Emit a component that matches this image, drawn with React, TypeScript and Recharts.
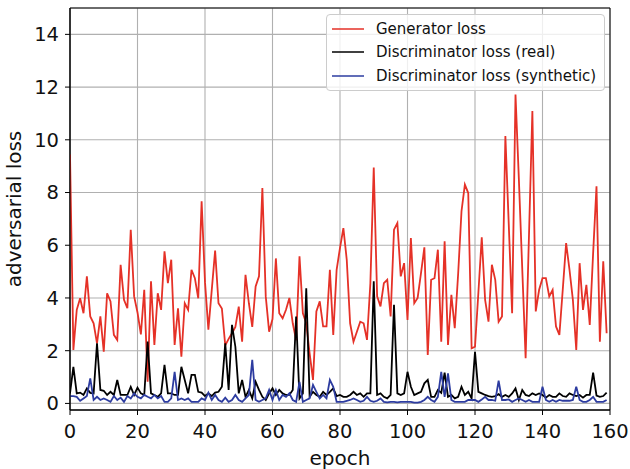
import React from 'react';
import {
  LineChart,
  Line,
  XAxis,
  YAxis,
  CartesianGrid,
  Legend,
  ReferenceArea,
} from 'recharts';

const FONT = '"DejaVu Sans", Verdana, sans-serif';

// Training epochs 0..159
const epochs = Array.from({ length: 160 }, (_, i) => i);

const generatorLoss = [
  9.44, 2.03, 3.55, 3.99, 3.42, 4.82, 3.3, 3.04, 2.28, 3.3,
  1.96, 4.18, 3.87, 2.6, 2.41, 5.26, 3.93, 3.61, 6.59, 4.06,
  3.45, 2.62, 4.31, 0.82, 4.63, 2.22, 4.18, 3.55, 5.77, 4.56,
  5.45, 2.22, 3.61, 1.77, 3.8, 3.55, 5.07, 4.75, 3.99, 7.67,
  4.6, 2.8, 4.3, 5.8, 3.8, 3.6, 2.2, 2.45, 2.66, 2.9,
  3.67, 2.34, 4.88, 3.8, 2.9, 4.44, 4.82, 8.17, 4.06, 2.72,
  3.2, 5.5, 3.42, 3.23, 3.55, 4.0, 3.04, 2.4, 5.58, 3.42,
  3.04, 1.9, 0.89, 3.49, 3.87, 2.92, 2.92, 5.07, 2.6, 5.07,
  5.9, 6.65, 5.45, 3.04, 2.34, 2.72, 3.1, 3.04, 2.41, 4.56,
  8.95, 4.06, 3.68, 4.56, 4.69, 3.3, 6.59, 6.84, 4.82, 5.32,
  3.17, 6.27, 3.8, 4.0, 4.94, 5.92, 1.84, 4.69, 4.75, 5.83,
  2.34, 6.15, 2.22, 4.12, 2.85, 4.9, 7.29, 8.3, 7.98, 2.09,
  2.15, 4.2, 6.3, 3.93, 3.1, 5.26, 4.69, 3.1, 3.3, 10.14,
  6.8, 3.42, 11.72, 8.5, 5.1, 1.71, 6.4, 11.09, 3.49, 4.31,
  4.75, 4.75, 4.06, 4.31, 2.92, 2.6, 4.31, 6.08, 5.07, 3.93,
  2.03, 5.32, 3.55, 4.5, 2.98, 5.7, 8.24, 2.34, 5.39, 2.66,
];

const discriminatorRealLoss = [
  0.38, 1.39, 0.38, 0.41, 0.32, 0.57, 0.4, 0.38, 2.28, 0.51,
  0.48, 0.32, 0.44, 0.32, 0.89, 0.32, 0.32, 0.32, 0.63, 0.32,
  0.6, 0.38, 0.32, 2.35, 0.38, 0.32, 0.25, 0.38, 1.46, 0.38,
  0.38, 0.32, 0.32, 1.39, 0.89, 0.38, 1.08, 1.08, 0.44, 0.41,
  0.28, 0.38, 0.28, 0.41, 0.44, 0.63, 2.28, 0.51, 2.98, 2.15,
  0.38, 0.89, 0.25, 0.51, 0.19, 0.82, 0.51, 0.25, 0.13, 0.38,
  0.57, 0.32, 0.51, 0.38, 0.32, 0.32, 0.51, 3.3, 0.19, 0.38,
  4.37, 0.25, 0.44, 0.32, 0.25, 0.44, 0.32, 0.44, 0.57, 0.28,
  0.32, 0.25, 0.25, 0.32, 0.44, 0.32, 0.38, 0.25, 0.38, 0.38,
  4.63, 0.32, 0.38, 0.25, 0.19, 0.32, 3.74, 0.38, 0.32, 0.38,
  1.2, 0.63, 0.32, 0.38, 0.44, 0.76, 0.89, 0.25, 0.25, 0.51,
  0.4, 1.17, 0.25, 0.32, 0.19, 0.25, 0.63, 0.32, 0.44, 0.19,
  1.96, 0.44, 0.38, 0.32, 0.28, 0.25, 0.28, 0.35, 0.25, 0.32,
  0.25, 0.38, 0.57, 0.13, 0.51, 0.32, 0.28, 0.38, 0.32, 0.38,
  0.32, 0.22, 0.32, 0.25, 0.25, 0.38, 0.28, 0.25, 0.38, 0.32,
  0.28, 0.32, 0.22, 0.32, 0.32, 1.17, 0.3, 0.25, 0.28, 0.41,
];

const discriminatorSyntheticLoss = [
  0.28, 0.28, 0.25, 0.1, 0.19, 0.28, 0.95, 0.13, 0.25, 0.13,
  0.19, 0.13, 0.06, 0.28, 0.13, 0.22, 0.06, 0.28, 0.19, 0.38,
  0.25, 0.19, 0.32, 0.25, 0.19, 0.32, 0.19, 0.28, 0.06, 0.06,
  0.19, 1.2, 0.13, 0.19, 0.13, 0.19, 0.06, 0.06, 0.06, 0.19,
  0.13, 0.41, 0.13, 0.32, 0.13, 0.06, 0.22, 0.06, 0.13, 0.32,
  0.13, 0.06, 0.19, 0.32, 1.65, 0.13, 0.06, 0.13, 0.19, 0.51,
  0.13, 0.51, 0.13, 0.32, 0.25, 0.38, 0.13, 0.06, 0.82, 0.06,
  0.13, 0.19, 0.7, 0.44, 0.19, 0.32, 0.19, 0.89, 0.63, 0.06,
  0.06, 0.06, 0.1, 0.13, 0.19, 0.13, 0.06, 0.1, 0.25, 0.1,
  0.06, 0.1, 0.19, 0.06, 0.04, 0.06, 0.06, 0.04, 0.06, 0.06,
  0.06, 0.06, 0.03, 0.03, 0.06, 0.13, 0.25, 0.13, 0.06, 0.25,
  1.2, 0.25, 1.14, 0.13, 0.06, 0.06, 0.06, 0.06, 0.13, 0.13,
  0.13, 0.06, 0.15, 0.25, 0.13, 0.13, 0.1, 0.86, 0.13, 0.13,
  0.15, 0.06, 0.13, 0.19, 0.13, 0.06, 0.13, 0.06, 0.06, 0.06,
  0.63, 0.13, 0.06, 0.13, 0.06, 0.13, 0.1, 0.1, 0.1, 0.13,
  0.63, 0.13, 0.06, 0.06, 0.13, 0.25, 0.06, 0.06, 0.06, 0.13,
];

const seriesNames = [
  'Generator loss',
  'Discriminator loss (real)',
  'Discriminator loss (synthetic)',
];
const seriesColors = ['#e53127', '#000000', '#2d3ca0'];

const xTicks = [0, 20, 40, 60, 80, 100, 120, 140, 160];
const yTicks = [0, 2, 4, 6, 8, 10, 12, 14];
const xDomain: [number, number] = [0, 160];
const yDomain: [number, number] = [-0.25, 15];

const data = epochs.map((epoch, i) => ({
  epoch,
  gen: generatorLoss[i],
  real: discriminatorRealLoss[i],
  synth: discriminatorSyntheticLoss[i],
}));

// Legend entries kept in plotting order
const LegendBox = ({ payload }: any) => {
  const items = [...(payload || [])].sort(
    (a: any, b: any) => seriesNames.indexOf(a.value) - seriesNames.indexOf(b.value)
  );
  return (
    <div
      style={{
        border: '1px solid #cccccc',
        borderRadius: 4,
        background: 'rgba(255,255,255,0.8)',
        padding: '2px 8px 2px 5px',
        fontFamily: FONT,
        fontSize: 15,
        color: '#111',
        whiteSpace: 'nowrap',
      }}
    >
      {items.map((p: any) => (
        <div
          key={p.value}
          style={{ display: 'flex', alignItems: 'center', height: 23.5 }}
        >
          <svg width={32} height={4} style={{ marginRight: 12 }}>
            <line x1={0} y1={2} x2={32} y2={2} stroke={p.color} strokeWidth={1.5} />
          </svg>
          <span>{p.value}</span>
        </div>
      ))}
    </div>
  );
};

const YTitle = ({ viewBox }: any) => {
  const cx = 14;
  const cy = viewBox.y + viewBox.height / 2;
  return (
    <text
      x={cx}
      y={cy}
      transform={`rotate(-90, ${cx}, ${cy})`}
      textAnchor="middle"
      dominantBaseline="central"
      fontFamily={FONT}
      fontSize={20}
      fill="#111"
    >
      adversarial loss
    </text>
  );
};

const XTitle = ({ viewBox }: any) => {
  const cx = viewBox.x + viewBox.width / 2;
  return (
    <text
      x={cx}
      y={465}
      textAnchor="middle"
      fontFamily={FONT}
      fontSize={20}
      fill="#111"
    >
      epoch
    </text>
  );
};

export default function App() {
  return (
    <div style={{ position: 'absolute', left: 0, top: 0, background: '#fff' }}>
      <LineChart
        width={630}
        height={469}
        data={data}
        margin={{ top: 8, right: 20, left: 0, bottom: 0 }}
      >
        <CartesianGrid stroke="#b0b0b0" strokeWidth={1.1} />
        <XAxis
          dataKey="epoch"
          type="number"
          domain={xDomain}
          ticks={xTicks}
          allowDataOverflow
          height={59}
          tickSize={5}
          tickMargin={9}
          stroke="#000"
          tick={{ fontFamily: FONT, fontSize: 19.5, fill: '#111' }}
          label={{ content: XTitle }}
        />
        <YAxis
          type="number"
          domain={yDomain}
          ticks={yTicks}
          allowDataOverflow
          width={70}
          tickSize={5}
          tickMargin={6}
          stroke="#000"
          tick={{ fontFamily: FONT, fontSize: 19.5, fill: '#111' }}
          label={{ content: YTitle }}
        />
        <ReferenceArea
          x1={xDomain[0]}
          x2={xDomain[1]}
          y1={yDomain[0]}
          y2={yDomain[1]}
          fill="none"
          stroke="#000"
          strokeWidth={1}
          ifOverflow="visible"
        />
        <Line
          dataKey="gen"
          name={seriesNames[0]}
          stroke={seriesColors[0]}
          strokeWidth={1.8}
          dot={false}
          activeDot={false}
          isAnimationActive={false}
        />
        <Line
          dataKey="real"
          name={seriesNames[1]}
          stroke={seriesColors[1]}
          strokeWidth={1.8}
          dot={false}
          activeDot={false}
          isAnimationActive={false}
        />
        <Line
          dataKey="synth"
          name={seriesNames[2]}
          stroke={seriesColors[2]}
          strokeWidth={1.8}
          dot={false}
          activeDot={false}
          isAnimationActive={false}
        />
        <Legend
          layout="vertical"
          align="center"
          verticalAlign="middle"
          content={LegendBox}
          wrapperStyle={{ left: 326, top: 14, width: 'auto' }}
        />
      </LineChart>
    </div>
  );
}
